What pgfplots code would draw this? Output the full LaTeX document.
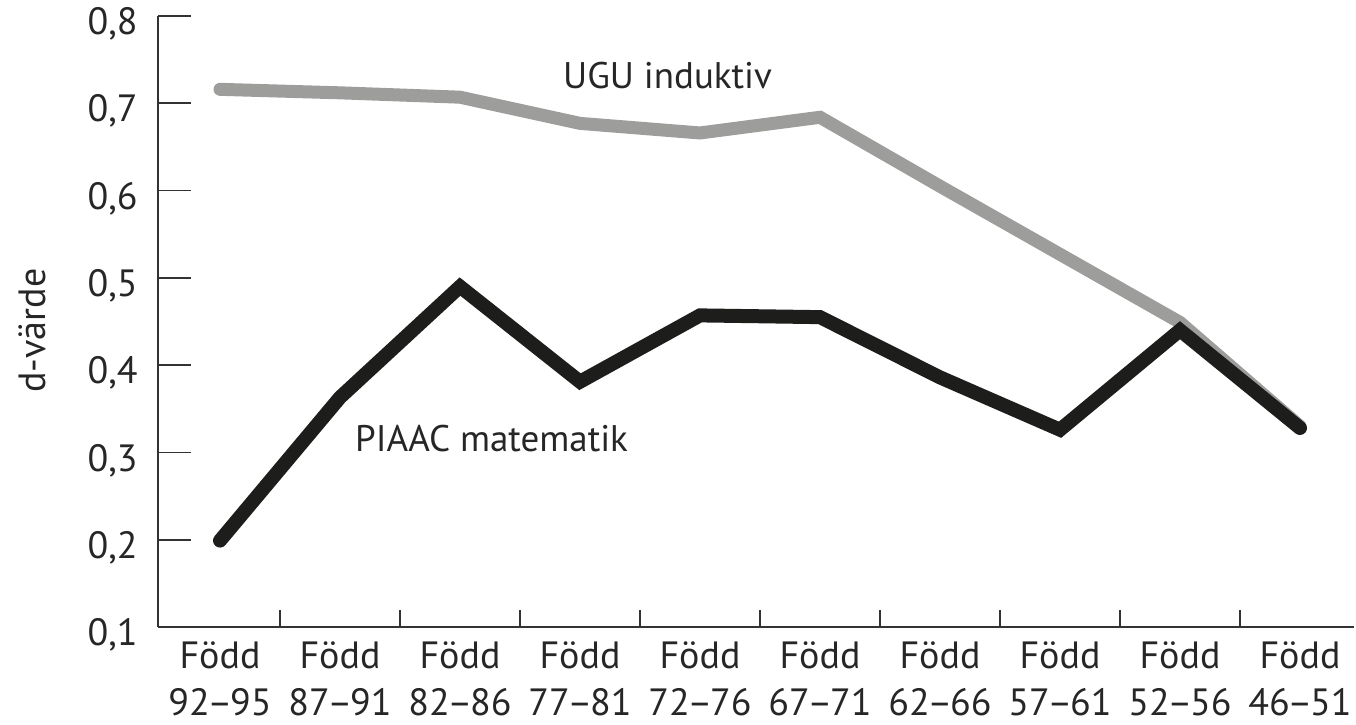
\documentclass[border=0pt]{standalone}
\usepackage{pgfplots}
\pgfplotsset{compat=1.18}
\usepackage{fontspec}
\setmainfont{PT Sans}
\definecolor{ugu}{HTML}{9D9D9C}
\definecolor{piaac}{HTML}{1D1D1B}
\definecolor{txt}{HTML}{262626}
\definecolor{axl}{HTML}{333333}
\newcommand{\rng}[2]{#1\kern-1.2pt--\kern-1.2pt#2}
\begin{document}
\begin{tikzpicture}
\useasboundingbox (0,0) rectangle (678pt,362pt);
\begin{axis}[
  at={(79pt,48.5pt)}, anchor=south west,
  scale only axis, width=598pt, height=305.5pt,
  xmin=-0.5167, xmax=9.45, ymin=0.1, ymax=0.8,
  axis x line*=bottom, axis y line*=left,
  axis line style={draw=axl, line width=0.8pt},
  tick align=inside,
  major tick length=16.5pt, minor tick length=8.5pt,
  tick style={draw=axl, line width=0.8pt},
  every major x tick/.append style={draw=none},
  xtick={0,1,2,3,4,5,6,7,8,9},
  minor xtick={0.5,1.5,2.5,3.5,4.5,5.5,6.5,7.5,8.5},
  xticklabels={{Född\\\rng{92}{95}},{Född\\\rng{87}{91}},{Född\\\rng{82}{86}},{Född\\\rng{77}{81}},{Född\\\rng{72}{76}},{Född\\\rng{67}{71}},{Född\\\rng{62}{66}},{Född\\\rng{57}{61}},{Född\\\rng{52}{56}},{Född\\\rng{46}{51}}},
  ytick={0.1,0.2,0.3,0.4,0.5,0.6,0.7,0.8},
  yticklabels={{0,1},{0,2},{0,3},{0,4},{0,5},{0,6},{0,7},{0,8}},
  tick label style={font=\fontsize{19}{23.5}\selectfont, text=txt},
  xticklabel style={align=center, inner sep=0pt, anchor=north, yshift=-7pt},
  yticklabel style={inner sep=0pt, anchor=east, xshift=-10pt, yshift=-4pt},
  ylabel={d-värde},
  every axis y label/.style={at={(axis description cs:-0.105,0.485)}, anchor=center, rotate=90, font=\fontsize{19}{23}\selectfont, text=txt},
  clip=false,
]
\addplot[color=ugu, line width=6.5pt, line cap=round, line join=miter] coordinates {
  (0,0.716) (1,0.712) (2,0.707) (3,0.677) (4,0.666) (5,0.684) (6,0.605) (7,0.527) (8,0.449) (9,0.330)
};
\addplot[color=piaac, line width=7pt, line cap=round, line join=miter] coordinates {
  (0,0.199) (1,0.363) (2,0.490) (3,0.381) (4,0.457) (5,0.455) (6,0.386) (7,0.326) (8,0.440) (9,0.328)
};
\node[anchor=base, font=\fontsize{18.5}{22}\selectfont, text=txt] at (axis cs:3.73,0.717) {UGU induktiv};
\node[anchor=base, font=\fontsize{18.5}{22}\selectfont, text=txt] at (axis cs:2.263,0.3006) {PIAAC matematik};
\end{axis}
\end{tikzpicture}
\end{document}
